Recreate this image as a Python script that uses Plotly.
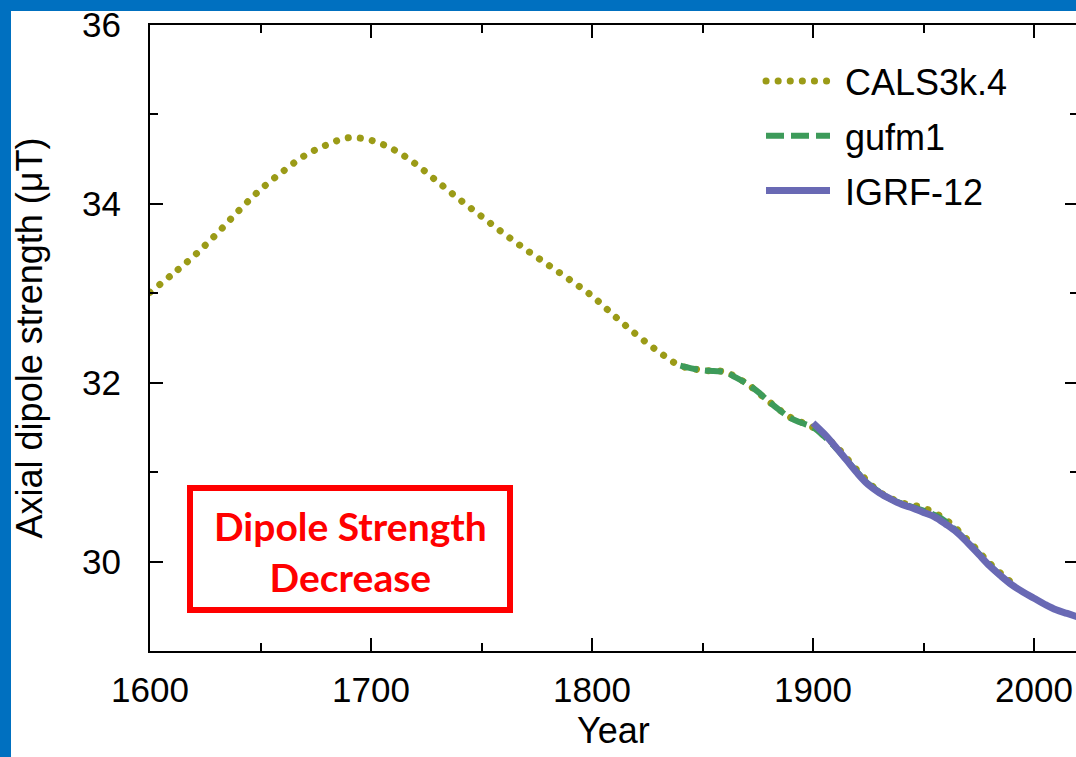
import plotly.graph_objects as go

# ---------------- data ----------------
cals_years = [1600, 1610, 1620, 1630, 1640, 1650, 1660, 1670, 1680, 1690, 1700, 1710, 1720,
              1730, 1740, 1750, 1760, 1770, 1780, 1790, 1800, 1810, 1820, 1830, 1840, 1850,
              1860, 1870, 1880, 1890, 1900, 1910, 1920, 1930, 1940, 1950, 1960, 1970, 1980, 1990]
cals_vals = [33.01, 33.21, 33.42, 33.66, 33.92, 34.16, 34.36, 34.54, 34.66, 34.74, 34.71, 34.61,
             34.45, 34.25, 34.05, 33.86, 33.67, 33.49, 33.32, 33.15, 32.97, 32.75, 32.54, 32.35,
             32.19, 32.14, 32.12, 31.99, 31.79, 31.61, 31.50, 31.30, 31.02, 30.78, 30.66, 30.60,
             30.47, 30.24, 29.98, 29.76]

gufm_years = [1840, 1845, 1850, 1855, 1860, 1865, 1870, 1875, 1880, 1885, 1890, 1895, 1900,
              1905, 1910, 1915, 1920, 1925, 1930, 1935, 1940, 1945, 1950, 1955, 1960, 1965,
              1970, 1975, 1980, 1985, 1990]
gufm_vals = [32.19, 32.16, 32.14, 32.13, 32.12, 32.06, 31.99, 31.90, 31.79, 31.69, 31.60, 31.55,
             31.50, 31.40, 31.28, 31.14, 31.00, 30.87, 30.78, 30.70, 30.65, 30.61, 30.57, 30.52,
             30.45, 30.34, 30.22, 30.09, 29.96, 29.84, 29.74]

igrf_years = [1900, 1905, 1910, 1915, 1920, 1925, 1930, 1935, 1940, 1945, 1950, 1955, 1960,
              1965, 1970, 1975, 1980, 1985, 1990, 1995, 2000, 2005, 2010, 2015, 2020]
igrf_vals = [31.55, 31.43, 31.29, 31.14, 30.99, 30.86, 30.77, 30.70, 30.64, 30.60, 30.55, 30.50,
             30.42, 30.33, 30.21, 30.08, 29.95, 29.84, 29.74, 29.66, 29.59, 29.52, 29.46, 29.42,
             29.38]

x_tick_vals = [1600, 1700, 1800, 1900, 2000]
x_tick_text = ["1600", "1700", "1800", "1900", "2000"]
y_tick_vals = [30, 32, 34, 36]
y_tick_text = ["30", "32", "34", "36"]

# ---------------- layout geometry ----------------
W, H = 1076, 757
ML, MR, MT, MB = 150, 0, 25, 106
PW, PH = W - ML - MR, H - MT - MB


def px(xp):
    return (xp - ML) / PW


def py(yp):
    return (H - MB - yp) / PH


FONT = "Liberation Sans, Arial, Helvetica, sans-serif"
BLUE = "#0070C0"
NB = "\u00a0"

fig = go.Figure()
fig.add_trace(go.Scatter(
    x=cals_years, y=cals_vals, mode="lines", name=NB + "CALS3k.4", legendgroup="a",
    line=dict(color="#9B9B17", width=7, dash="0.1px,12px", shape="spline", smoothing=1.0),
))
fig.add_trace(go.Scatter(
    x=gufm_years, y=gufm_vals, mode="lines", name=NB + "gufm1", legendgroup="b",
    line=dict(color="#3D9B5A", width=6, dash="18px,7px", shape="spline", smoothing=1.0),
))
fig.add_trace(go.Scatter(
    x=igrf_years, y=igrf_vals, mode="lines", name=NB + "IGRF-12", legendgroup="c",
    line=dict(color="#6969B4", width=7, shape="spline", smoothing=1.0),
))
# invisible trace to carry the mirrored right-hand y ticks
fig.add_trace(go.Scatter(x=[1600], y=[30], yaxis="y2", mode="lines", showlegend=False,
                         hoverinfo="skip", line=dict(width=0)))

fig.update_layout(
    template="none",
    width=W, height=H,
    margin=dict(l=ML, r=MR, t=MT, b=MB, autoexpand=False),
    paper_bgcolor="white", plot_bgcolor="white",
    font=dict(family=FONT, size=35, color="black"),
    showlegend=True,
    legend=dict(x=px(761), y=py(51), xanchor="left", yanchor="top",
                font=dict(family=FONT, size=36, color="black"),
                bgcolor="rgba(0,0,0,0)", borderwidth=0, itemwidth=64,
                tracegroupgap=5),
    xaxis=dict(range=[1600, 1600 + PW / 2.21], tickvals=x_tick_vals, ticktext=x_tick_text,
               ticks="inside", ticklen=13, tickwidth=2, tickcolor="black",
               showline=True, linecolor="black", linewidth=2, mirror="ticks",
               showgrid=False, zeroline=False, ticklabelstandoff=7, automargin=False,
               tickfont=dict(size=35),
               minor=dict(dtick=50, tick0=1600, ticks="inside", ticklen=8, tickwidth=2,
                          tickcolor="black", showgrid=False)),
    yaxis=dict(range=[29, 36], tickvals=y_tick_vals, ticktext=y_tick_text,
               ticks="inside", ticklen=13, tickwidth=2, tickcolor="black",
               showline=True, linecolor="black", linewidth=2, mirror=False,
               showgrid=False, zeroline=False, ticklabelstandoff=20, automargin=False,
               tickfont=dict(size=35),
               minor=dict(dtick=1, tick0=29, ticks="inside", ticklen=8, tickwidth=2,
                          tickcolor="black", showgrid=False),
               title=dict(text="Axial dipole strength (μT)", standoff=28, font=dict(size=36))),
    yaxis2=dict(range=[29, 36], overlaying="y", side="right", tickvals=y_tick_vals,
                ticks="inside", ticklen=11, tickwidth=2, tickcolor="black", automargin=False,
                showticklabels=False, showline=False, showgrid=False, zeroline=False,
                minor=dict(dtick=1, tick0=29, ticks="inside", ticklen=6, tickwidth=2,
                           tickcolor="black", showgrid=False)),
    shapes=[
        # blue frame strips (left and top), kept inside the figure
        dict(type="rect", xref="paper", yref="paper", x0=px(0), x1=px(11), y0=py(H), y1=py(0),
             fillcolor=BLUE, line=dict(width=0), layer="above"),
        dict(type="rect", xref="paper", yref="paper", x0=px(0), x1=px(W), y0=py(11), y1=py(0),
             fillcolor=BLUE, line=dict(width=0), layer="above"),
        # red callout box
        dict(type="rect", xref="paper", yref="paper", x0=px(190), x1=px(510), y0=py(610), y1=py(488),
             fillcolor="white", line=dict(color="#FF0000", width=6), layer="above"),
    ],
    annotations=[
        dict(xref="paper", yref="paper", x=px(350), y=py(551), xanchor="center", yanchor="middle",
             showarrow=False, text="<b>Dipole Strength<br>Decrease</b>", align="center",
             font=dict(family="Lato, Carlito, Open Sans, sans-serif", size=39, color="#FF0000")),
        # x-axis title near the bottom edge
        dict(xref="paper", yref="paper", x=0.5, y=py(731), xanchor="center", yanchor="middle",
             showarrow=False, text="Year", font=dict(family=FONT, size=36, color="black")),
    ],
)

post = """
var s=document.createElement('style');
s.innerHTML='path.js-line[style*="0.1px"]{stroke-linecap:round !important;}';
document.head.appendChild(s);
"""
fig.write_html("out.html", post_script=post)
